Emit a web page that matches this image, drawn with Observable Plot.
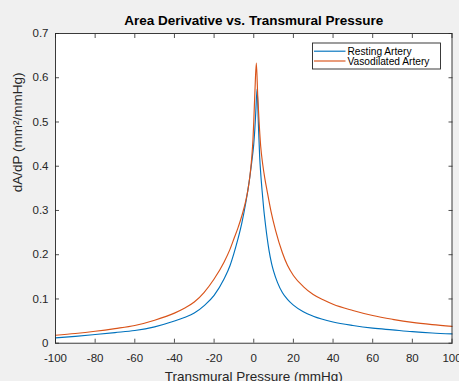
<!DOCTYPE html>
<html>
<head>
<meta charset="utf-8">
<script src="https://cdn.jsdelivr.net/npm/d3@7"></script>
<script src="https://cdn.jsdelivr.net/npm/@observablehq/plot@0.6"></script>
<style>
  html, body { margin: 0; padding: 0; background: #f0f0f0; }
  #wrap { position: relative; width: 459px; height: 381px; overflow: hidden; }
</style>
</head>
<body>
<div id="wrap"></div>
<script>
// ---- Data ----
const seriesNames = ["Resting Artery", "Vasodilated Artery"];
const seriesColors = ["#0072BD", "#D95319"];

const restingPressure = [-100, -90, -80, -70, -60, -50, -40, -35, -30, -25, -20, -15, -12, -10, -8, -6, -4, -3, -2, -1, 0, 0.5, 1, 1.7, 2.3, 3, 3.5, 4.2, 5, 6, 7.7, 9, 10, 12, 14.5, 17, 20, 25, 30, 40, 50, 60, 70, 80, 90, 100];
const restingDadp     = [0.012, 0.0155, 0.0196, 0.024, 0.0287, 0.037, 0.050, 0.058, 0.068, 0.085, 0.108, 0.145, 0.175, 0.203, 0.235, 0.272, 0.318, 0.345, 0.375, 0.41, 0.45, 0.48, 0.52, 0.575, 0.50, 0.42, 0.385, 0.345, 0.305, 0.265, 0.21, 0.18, 0.163, 0.137, 0.114, 0.099, 0.086, 0.071, 0.061, 0.048, 0.040, 0.034, 0.030, 0.026, 0.023, 0.021];

const vasoPressure = [-100, -90, -80, -70, -60, -50, -40, -35, -30, -25, -20, -15, -12, -10, -8, -6, -4, -3, -2, -1, -0.4, 0, 0.6, 1.3, 2, 2.7, 3.5, 4.5, 5.5, 6.7, 8.7, 11, 14.4, 17, 20, 25, 30, 35, 40, 50, 60, 70, 80, 90, 100];
const vasoDadp     = [0.018, 0.022, 0.027, 0.033, 0.040, 0.052, 0.068, 0.079, 0.093, 0.115, 0.145, 0.183, 0.212, 0.236, 0.260, 0.288, 0.322, 0.345, 0.375, 0.42, 0.46, 0.50, 0.57, 0.633, 0.56, 0.50, 0.445, 0.405, 0.375, 0.345, 0.298, 0.255, 0.205, 0.176, 0.153, 0.128, 0.110, 0.098, 0.088, 0.074, 0.0625, 0.054, 0.047, 0.042, 0.038];

const xTicks = [-100, -80, -60, -40, -20, 0, 20, 40, 60, 80, 100];
const yTicks = [0, 0.1, 0.2, 0.3, 0.4, 0.5, 0.6, 0.7];

const titleText = "Area Derivative vs. Transmural Pressure";
const xLabel = "Transmural Pressure (mmHg)";
const yLabel = "dA/dP (mm²/mmHg)";

// ---- Build table ----
const rows = [
  ...restingPressure.map((p, i) => ({p, v: restingDadp[i], s: seriesNames[0]})),
  ...vasoPressure.map((p, i) => ({p, v: vasoDadp[i], s: seriesNames[1]}))
];

const font = "'Liberation Sans', Arial, Helvetica, sans-serif";
const axisColor = "#262626";

const chart = Plot.plot({
  width: 459,
  height: 381,
  marginLeft: 55,
  marginRight: 7.5,
  marginTop: 33,
  marginBottom: 38.3,
  style: {background: "#f0f0f0", fontFamily: font, fontSize: "11.5px", color: axisColor, overflow: "hidden"},
  x: {domain: [-100, 100]},
  y: {domain: [0, 0.7]},
  color: {domain: seriesNames, range: seriesColors},
  marks: [
    Plot.frame({fill: "white", stroke: "none"}),
    Plot.line(rows, {x: "p", y: "v", z: "s", stroke: "s", curve: "monotone-x", strokeWidth: 1.15}),
    // inward ticks on all four sides
    Plot.axisX(xTicks, {anchor: "bottom", tickSize: -4, fill: "none", label: null, stroke: axisColor, strokeWidth: 0.8}),
    Plot.axisX(xTicks, {anchor: "top", tickSize: -4, fill: "none", label: null, stroke: axisColor, strokeWidth: 0.8}),
    Plot.axisY(yTicks, {anchor: "left", tickSize: -4, fill: "none", label: null, stroke: axisColor, strokeWidth: 0.8}),
    Plot.axisY(yTicks, {anchor: "right", tickSize: -4, fill: "none", label: null, stroke: axisColor, strokeWidth: 0.8}),
    // tick labels
    Plot.axisX(xTicks, {anchor: "bottom", tickSize: 0, tickPadding: 11, label: null, fill: axisColor, fontSize: 11.5, tickFormat: d => String(d)}),
    Plot.axisY(yTicks, {anchor: "left", tickSize: 0, tickPadding: 7, label: null, fill: axisColor, fontSize: 11.5, tickFormat: d => d === 0 ? "0" : d.toFixed(1)}),
    Plot.frame({stroke: axisColor, strokeWidth: 0.9}),
    // title and axis labels
    Plot.text([titleText], {text: d => d, frameAnchor: "top", dy: -12.5, fontWeight: "bold", fontSize: 13.5, fill: "#000", lineAnchor: "middle"}),
    Plot.text([xLabel], {text: d => d, frameAnchor: "bottom", dy: 33, fontSize: 13.5, fill: axisColor, lineAnchor: "middle"}),
    Plot.text([yLabel], {text: d => d, frameAnchor: "left", dx: -37.5, dy: 4, rotate: -90, fontSize: 13.5, fill: axisColor, lineAnchor: "middle"})
  ]
});

document.getElementById("wrap").appendChild(chart);

// ---- Legend (box inside the axes, top right) ----
const svg = d3.select(chart);
const lg = svg.append("g")
  .attr("font-family", font)
  .attr("font-size", 10.2)
  .attr("text-anchor", "start");
lg.append("rect").attr("x", 312.5).attr("y", 43).attr("width", 128).attr("height", 26)
  .attr("fill", "white").attr("stroke", axisColor).attr("stroke-width", 0.9);
seriesNames.forEach((name, i) => {
  const yy = 51.2 + i * 9.8;
  lg.append("line").attr("x1", 314).attr("x2", 345.5).attr("y1", yy).attr("y2", yy)
    .attr("stroke", seriesColors[i]).attr("stroke-width", 1.15);
  lg.append("text").attr("x", 347.5).attr("y", yy).attr("dy", "0.35em")
    .attr("text-anchor", "start").attr("fill", "#000").text(name);
});
</script>
</body>
</html>
